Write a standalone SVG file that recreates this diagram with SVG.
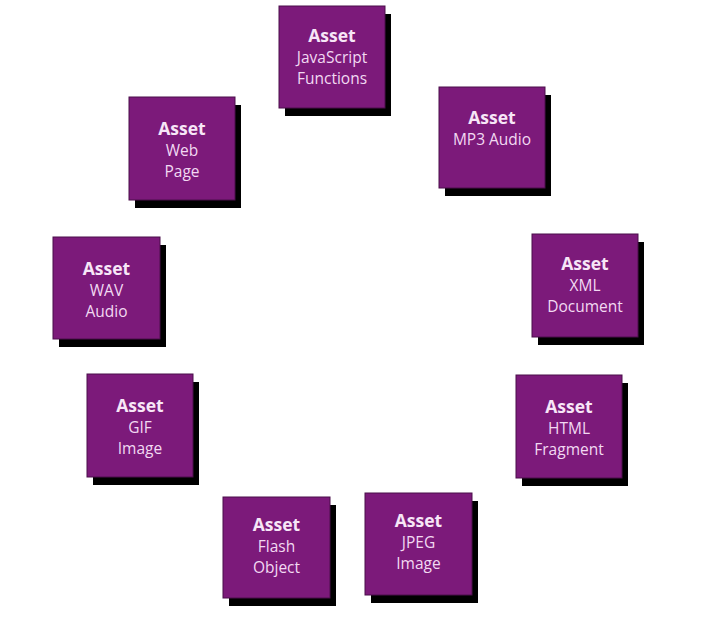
<svg xmlns="http://www.w3.org/2000/svg" width="710" height="635" viewBox="0 0 710 635">
<style>
.sh{fill:#000}
.bx{fill:#7c1a7a;stroke:#4a0f4a;stroke-width:1}
.t1{font-family:"Open Sans","Noto Sans",sans-serif;font-weight:bold;font-size:17.5px;fill:#f7e6f7;text-anchor:middle}
.t2{font-family:"Open Sans","Noto Sans",sans-serif;font-size:15.5px;fill:#f2d9f2;text-anchor:middle}
</style>
<rect width="710" height="635" fill="#fff"/>
<g id="connectors"/>
<g id="js" transform="translate(279,6)">
<rect class="sh" x="6" y="8" width="106" height="102"/>
<rect class="bx" x="0" y="0" width="106" height="102"/>
<text class="t1" x="53" y="36">Asset</text>
<text class="t2" x="53" y="57">JavaScript</text>
<text class="t2" x="53" y="78">Functions</text>
</g>
<g id="mp3" transform="translate(439,87)">
<rect class="sh" x="6" y="8" width="106" height="101"/>
<rect class="bx" x="0" y="0" width="106" height="101"/>
<text class="t1" x="53" y="37">Asset</text>
<text class="t2" x="53" y="58">MP3 Audio</text>
</g>
<g id="web" transform="translate(129,97)">
<rect class="sh" x="6" y="8" width="106" height="103"/>
<rect class="bx" x="0" y="0" width="106" height="103"/>
<text class="t1" x="53" y="38">Asset</text>
<text class="t2" x="53" y="59">Web</text>
<text class="t2" x="53" y="80">Page</text>
</g>
<g id="xml" transform="translate(532,234)">
<rect class="sh" x="6" y="8" width="106" height="103"/>
<rect class="bx" x="0" y="0" width="106" height="103"/>
<text class="t1" x="53" y="36">Asset</text>
<text class="t2" x="53" y="57">XML</text>
<text class="t2" x="53" y="78">Document</text>
</g>
<g id="wav" transform="translate(53,237)">
<rect class="sh" x="6" y="8" width="107" height="102"/>
<rect class="bx" x="0" y="0" width="107" height="102"/>
<text class="t1" x="53.5" y="38">Asset</text>
<text class="t2" x="53.5" y="59">WAV</text>
<text class="t2" x="53.5" y="80">Audio</text>
</g>
<g id="html" transform="translate(516,375)">
<rect class="sh" x="6" y="8" width="106" height="103"/>
<rect class="bx" x="0" y="0" width="106" height="103"/>
<text class="t1" x="53" y="38">Asset</text>
<text class="t2" x="53" y="59">HTML</text>
<text class="t2" x="53" y="80">Fragment</text>
</g>
<g id="gif" transform="translate(87,374)">
<rect class="sh" x="6" y="8" width="106" height="103"/>
<rect class="bx" x="0" y="0" width="106" height="103"/>
<text class="t1" x="53" y="38">Asset</text>
<text class="t2" x="53" y="59">GIF</text>
<text class="t2" x="53" y="80">Image</text>
</g>
<g id="flash" transform="translate(223,497)">
<rect class="sh" x="6" y="8" width="107" height="101"/>
<rect class="bx" x="0" y="0" width="107" height="101"/>
<text class="t1" x="53.5" y="34">Asset</text>
<text class="t2" x="53.5" y="55">Flash</text>
<text class="t2" x="53.5" y="76">Object</text>
</g>
<g id="jpeg" transform="translate(365,493)">
<rect class="sh" x="6" y="8" width="107" height="102"/>
<rect class="bx" x="0" y="0" width="107" height="102"/>
<text class="t1" x="53.5" y="34">Asset</text>
<text class="t2" x="53.5" y="55">JPEG</text>
<text class="t2" x="53.5" y="76">Image</text>
</g>
</svg>
